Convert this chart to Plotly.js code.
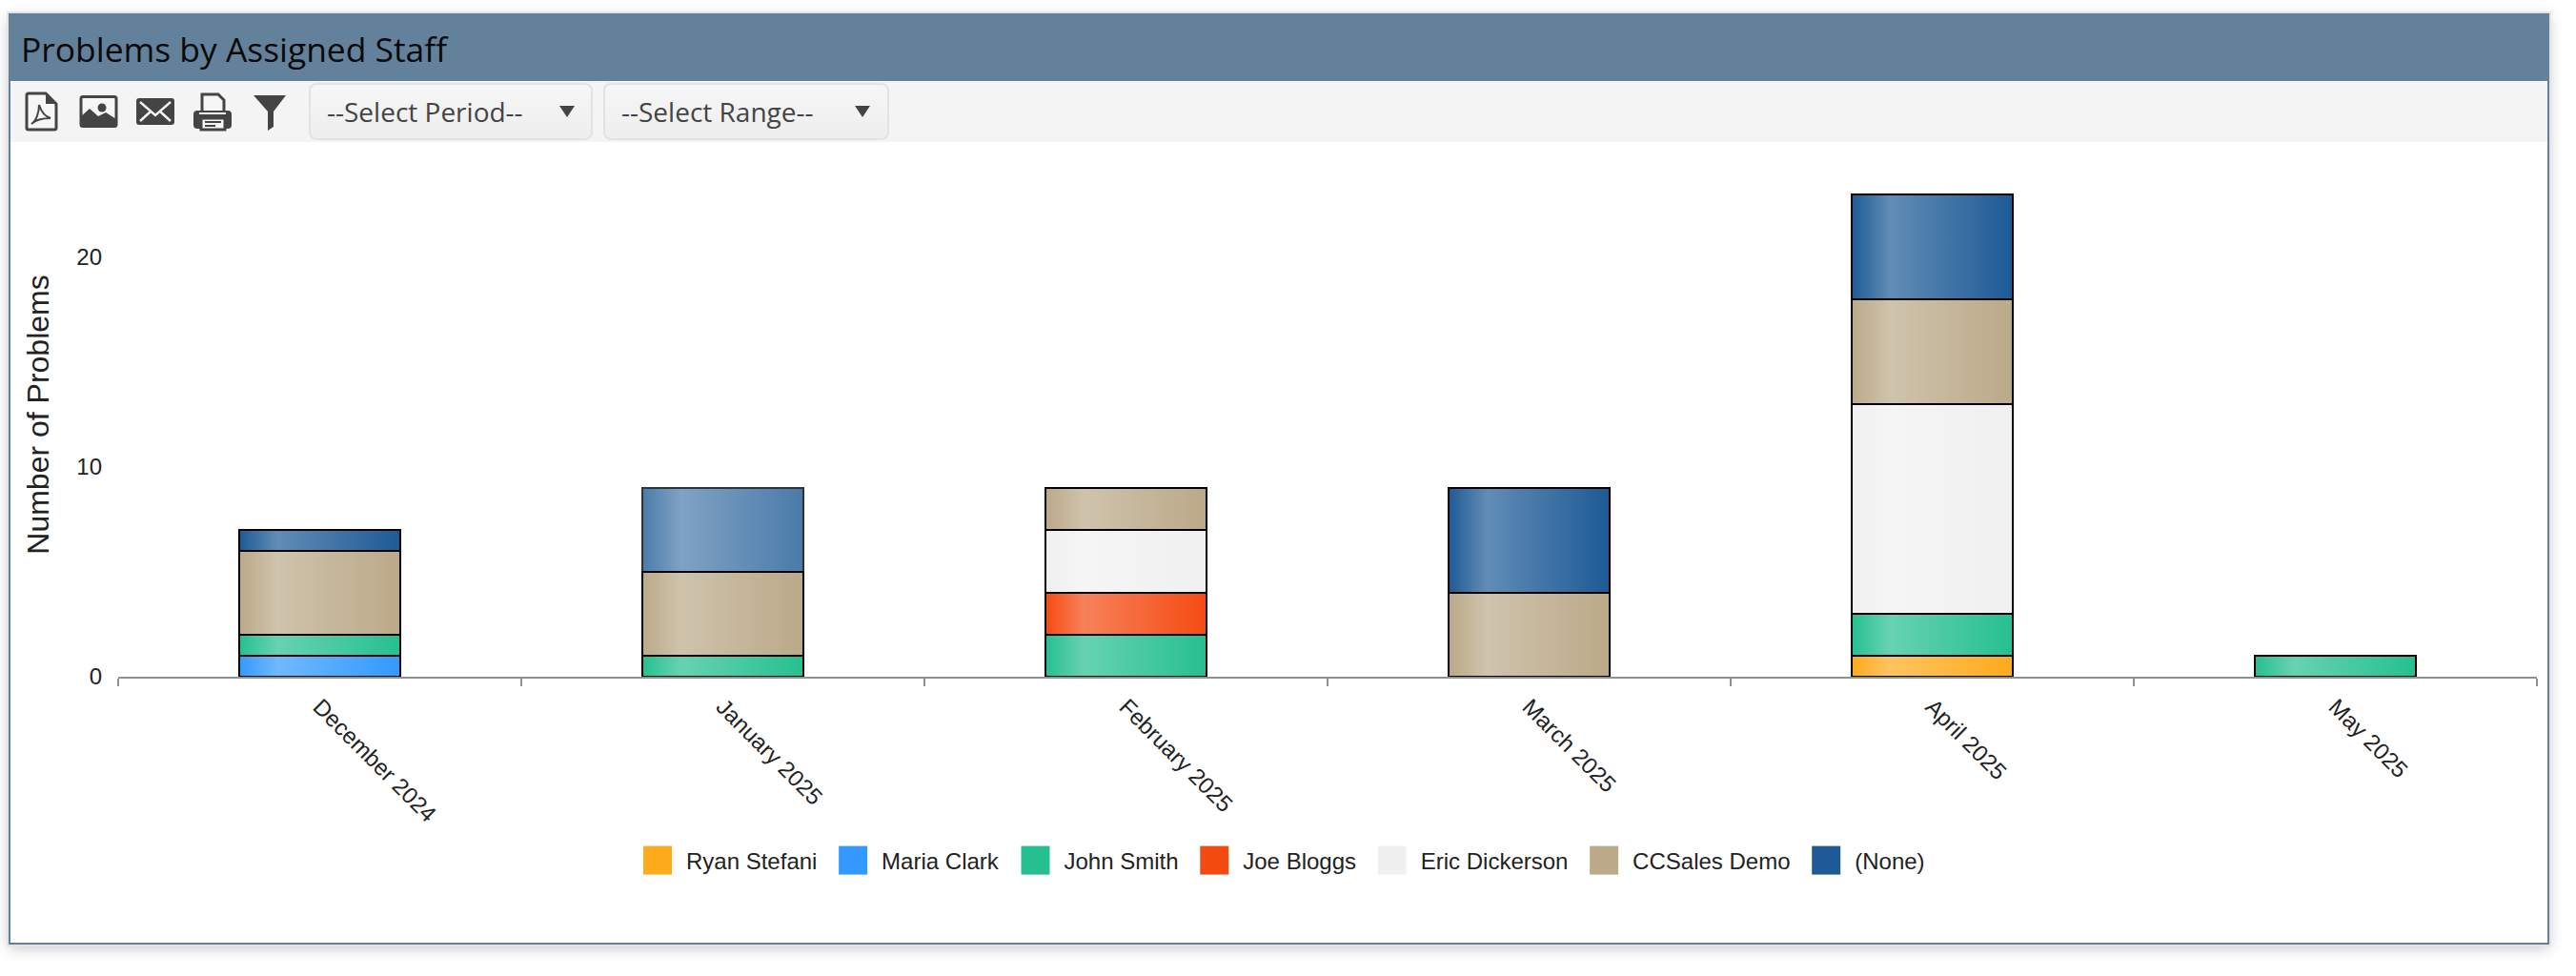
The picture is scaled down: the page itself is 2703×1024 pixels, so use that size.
<!DOCTYPE html>
<html>
<head>
<meta charset="utf-8">
<script src="https://cdn.plot.ly/plotly-3.0.1.min.js"></script>
<style>
html,body{margin:0;padding:0;background:#fff;width:2703px;height:1024px;overflow:hidden}
#panel{position:absolute;left:9px;top:14px;width:2666px;height:977px;box-sizing:border-box;border:2px solid #64819c;border-top:0;background:#fff;box-shadow:0 0 0 2px #e4e4e4,0 4px 14px rgba(0,0,0,.22)}
#header{position:absolute;left:-2px;top:0;width:2666px;height:71px;background:#64819c}
#toolbar{position:absolute;left:0;top:71px;width:2662px;height:64px;background:#f4f4f4;border-radius:5px 5px 0 0}
.dd{position:absolute;top:87px;height:60px;box-sizing:border-box;border:2px solid #e2e2e2;border-radius:8px;background:linear-gradient(#f6f6f6,#eeeeee);font:28px "Open Sans",sans-serif;color:#444;line-height:56px;white-space:nowrap;z-index:2}
.dd span{position:absolute;left:17px;top:0}
.dd i{position:absolute;top:22px;width:0;height:0;border-left:8.5px solid transparent;border-right:8.5px solid transparent;border-top:12px solid #444}
#icons{position:absolute;left:0;top:0;z-index:2}
#chart{position:absolute;left:0;top:0;width:2703px;height:1024px;z-index:1}
</style>
</head>
<body>
<div id="panel"><div id="header"></div><div id="toolbar"></div></div>
<svg id="icons" width="320" height="160" viewBox="0 0 320 160">
  <path d="M28 100 a2 2 0 0 1 2-2 H48 L59 109 V134 a2 2 0 0 1-2 2 H30 a2 2 0 0 1-2-2Z" fill="#f6f6f6" stroke="#444" stroke-width="3"/>
  <path d="M48 98 V109 H59Z" fill="#444"/>
  <path d="M33 130 C38 127 41 118 41 110 C43 116 46 122 53 124 C46 124 38 125 33 130Z" fill="none" stroke="#444" stroke-width="2"/>
  <rect x="85" y="101.5" width="37" height="31" rx="2" fill="#f6f6f6" stroke="#444" stroke-width="3"/>
  <circle cx="107" cy="113" r="4.5" fill="#444"/>
  <path d="M84 133 V123 L94 114 L103 122 L111 118 L122 125 V133Z" fill="#444"/>
  <rect x="143" y="103" width="40" height="28" rx="3" fill="#444"/>
  <path d="M147 107 L163 121 L179 107 M147 127 L158 117 M179 127 L168 117" fill="none" stroke="#f6f6f6" stroke-width="2.4"/>
  <path d="M212 116 V99 H229 L235 105 V116" fill="#f6f6f6" stroke="#444" stroke-width="3"/>
  <rect x="203" y="116" width="40" height="19" rx="4" fill="#444"/>
  <path d="M209 119 H237" stroke="#f6f6f6" stroke-width="2"/>
  <rect x="211" y="124" width="25" height="12" fill="#f6f6f6" stroke="#444" stroke-width="3"/>
  <path d="M215 128 H232 M215 132 H226" stroke="#444" stroke-width="2"/>
  <path d="M266 100 H300 L287 117 V133 L281 137 V117Z" fill="#444"/>
</svg>
<div class="dd" style="left:324px;width:298px"><span>--Select Period--</span><i style="left:261px"></i></div>
<div class="dd" style="left:633px;width:300px"><span>--Select Range--</span><i style="left:262px"></i></div>
<div id="chart"></div>
<script>
// Data
const categories = ["December 2024","January 2025","February 2025","March 2025","April 2025","May 2025"];
const ryanStefani  = [null,null,null,null,1,null];
const mariaClark   = [1,null,null,null,null,null];
const johnSmith    = [1,1,2,null,2,1];
const joeBloggs    = [null,null,2,null,null,null];
const ericDickerson= [null,null,3,null,10,null];
const ccsalesDemo  = [4,4,2,4,5,null];
const noneAssigned = [1,4,null,5,5,null];
const seriesNames  = ["Ryan Stefani","Maria Clark","John Smith","Joe Bloggs","Eric Dickerson","CCSales Demo","(None)"];
const seriesValues = [ryanStefani,mariaClark,johnSmith,joeBloggs,ericDickerson,ccsalesDemo,noneAssigned];
const seriesColors = ["#fdaa1c","#3399ff","#26bf90","#f44b12","#f0f0f0","#bba988","#1d5a96"];
const yTicks = [0,10,20];

const axisFont = {family:'"Liberation Sans",Arial,sans-serif',size:24,color:'#222'};
const traces = seriesNames.map((name,i)=>({
  type:'bar', name, x:categories, y:seriesValues[i],
  marker:{color:seriesColors[i],
          opacity: name==="(None)" ? categories.map((c)=>c==="January 2025"?0.8:1) : 1,
          line:{color:'#000',width:2}},
  hoverinfo:'x+y+name'
}));
const layout = {
  width:2703,height:1024,autosize:false,
  paper_bgcolor:'rgba(0,0,0,0)',plot_bgcolor:'rgba(0,0,0,0)',
  margin:{l:124,r:41,t:160,b:314,pad:0},
  barmode:'stack',bargap:0.6,
  title:{text:'Problems by Assigned Staff',xref:'container',yref:'container',x:22/2703,xanchor:'left',
         y:1-53/1024,yanchor:'middle',font:{family:'"Open Sans",sans-serif',size:35.4,color:'#0a0a0a'}},
  xaxis:{type:'category',range:[-0.5,5.5],tickson:'boundaries',ticks:'outside',ticklen:8,tickwidth:2,tickcolor:'#909090',
         showline:true,linecolor:'#909090',linewidth:2,showgrid:false,zeroline:false,tickangle:45,tickfont:axisFont,
         ticklabelstandoff:6,fixedrange:true},
  yaxis:{range:[0,25],tickmode:'array',tickvals:yTicks,ticktext:yTicks.map(String),ticks:'',showline:false,showgrid:false,zeroline:false,
         tickfont:axisFont,ticklabelstandoff:16,fixedrange:true,
         title:{text:'Number of Problems',font:{family:'"Liberation Sans",Arial,sans-serif',size:32,color:'#222'},standoff:19}},
  showlegend:true,
  legend:{orientation:'h',traceorder:'normal',x:(660-124)/2538,xanchor:'left',y:(710-903)/550,yanchor:'middle',itemwidth:50,
          font:axisFont,bgcolor:'rgba(0,0,0,0)',itemclick:false,itemdoubleclick:false}
};
function mix(hex,t){
  const n=parseInt(hex.slice(1),16),c=[n>>16,(n>>8)&255,n&255].map(v=>Math.round(v+(255-v)*t));
  return 'rgb('+c.join(',')+')';
}
Plotly.newPlot('chart',traces,layout,{displayModeBar:false,staticPlot:false}).then(gd=>{
  const svg=gd.querySelector('svg.main-svg');
  const NS='http://www.w3.org/2000/svg';
  const defs=document.createElementNS(NS,'defs');
  seriesColors.forEach((c,i)=>{
    const g=document.createElementNS(NS,'linearGradient');
    g.id='barfill'+i;
    [[0,c],[0.24,mix(c,0.3)],[1,c]].forEach(([o,col])=>{
      const s=document.createElementNS(NS,'stop');
      s.setAttribute('offset',o);s.setAttribute('stop-color',col);g.appendChild(s);
    });
    defs.appendChild(g);
  });
  svg.insertBefore(defs,svg.firstChild);
  gd.querySelectorAll('.barlayer .trace').forEach((t,i)=>{
    t.querySelectorAll('.point path').forEach(p=>{p.style.fill='url(#barfill'+i+')';});
  });
  gd.querySelectorAll('.legend .legendpoints path').forEach(p=>{
    p.setAttribute('d','M15,15H-15V-15H15Z');
    p.style.strokeWidth='0';
  });
  // widen the gap between legend entries to the reference spacing
  gd.querySelectorAll('.legend .scrollbox, .legend').forEach(el=>el.removeAttribute('clip-path'));
  gd.querySelectorAll('.legend .traces').forEach((t,i)=>{
    const m=/translate\(\s*([-\d.]+)[ ,]+([-\d.]+)\s*\)/.exec(t.getAttribute('transform')||'');
    if(m) t.setAttribute('transform','translate('+(parseFloat(m[1])+i*2.7)+','+m[2]+')');
  });
});
</script>
</body>
</html>
